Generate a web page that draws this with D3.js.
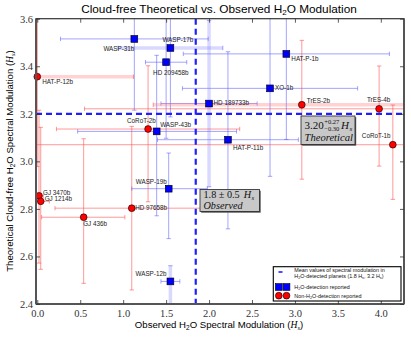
<!DOCTYPE html>
<html><head><meta charset="utf-8">
<script src="https://cdn.jsdelivr.net/npm/d3@7/dist/d3.min.js"></script>
<style>body{margin:0;background:#fff}svg{display:block}</style>
</head><body><svg id="c" width="411" height="337"></svg>
<script>
// ---- data ----
const planets   = ["WASP-31b","WASP-17b","HD 209458b","HAT-P-1b","XO-1b","HD 189733b","WASP-43b","HAT-P-11b","WASP-19b","WASP-12b",
                   "HAT-P-12b","TrES-2b","TrES-4b","CoRoT-2b","CoRoT-1b","GJ 3470b","GJ 1214b","HD 97658b","GJ 436b"];
const detected  = [1,1,1,1,1,1,1,1,1,1, 0,0,0,0,0,0,0,0,0];
const observed  = [1.13,1.55,1.50,2.90,2.71,2.00,1.39,2.22,1.53,1.55, 0.00,3.08,3.98,1.29,4.14,0.02,0.04,1.10,0.54];
const theoretical=[3.515,3.477,3.417,3.452,3.307,3.243,3.126,3.091,2.885,2.495, 3.356,3.238,3.221,3.136,3.070,2.855,2.832,2.803,2.765];
const obsErrLo  = [0.86,0.61,0.24,1.20,1.02,0.56,0.92,0.82,0.43,0.11, 1.12,1.73,3.43,1.067,4.2,0.05,0.10,0.894,0.49];
const obsErrHi  = [0.86,0.61,0.24,1.20,1.02,0.56,0.93,0.82,0.45,0.11, 1.12,1.73,3.43,1.067,4.2,0.05,0.10,0.894,0.48];
const theoErrLo = [0.30,0.29,0.32,0.36,0.37,0.35,0.355,0.375,0.21,0.095, 0.378,0.313,0.241,0.306,0.23,0.283,0.286,0.344,0.278];
const theoErrHi = [0.30,0.29,0.32,0.36,0.37,0.35,0.32,0.37,0.15,0.066, 0.378,0.271,0.18,0.266,0.167,0.36,0.311,0.344,0.33];
const obsErrWide  = [0,1,0,0,0,0,0,0,0,0, 1,1,0,0,0,0,0,0,0];
const theoErrWide = [0,0,0,0,0,1,0,0,0,1, 0,0,0,0,0,0,0,0,0];
const meanObserved = 1.845, meanTheoretical = 3.2;
const xTicks = [0.0,0.5,1.0,1.5,2.0,2.5,3.0,3.5,4.0];
const yTicks = [2.4,2.6,2.8,3.0,3.2,3.4,3.6];

// ---- layout ----
const svg = d3.select("#c");
const x = d3.scaleLinear().domain([-0.015, 4.27]).range([36, 404]);
const y = d3.scaleLinear().domain([2.4, 3.6]).range([304, 18.7]);
const X0 = x.range()[0], X1 = x.range()[1], Y0 = y.range()[1], Y1 = y.range()[0];
const serif = "'Liberation Serif','DejaVu Serif',serif";
const sans = "'Liberation Sans',Arial,sans-serif";

const rows = planets.map((n,i)=>({n,det:detected[i],x:observed[i],y:theoretical[i],xl:obsErrLo[i],xh:obsErrHi[i],yl:theoErrLo[i],yh:theoErrHi[i],xw:obsErrWide[i],yw:theoErrWide[i]}));

svg.append("defs").append("clipPath").attr("id","pc").append("rect")
  .attr("x",X0).attr("y",Y0).attr("width",X1-X0).attr("height",Y1-Y0);

// error bars
const eb = svg.append("g").attr("clip-path","url(#pc)");
const cap = 2.2;
rows.forEach(d=>{
  const thin = d.det ? "rgba(90,90,255,0.55)" : "rgba(255,70,70,0.55)";
  const wide = d.det ? "rgba(120,120,255,0.28)" : "rgba(255,110,110,0.3)";
  const cx = x(d.x), cy = y(d.y);
  const xa = x(d.x-d.xl), xb = x(d.x+d.xh), ya = y(d.y-d.yl), yb = y(d.y+d.yh);
  eb.append("line").attr("x1",xa).attr("x2",xb).attr("y1",cy).attr("y2",cy)
    .attr("stroke", d.xw?wide:thin).attr("stroke-width", d.xw?3.5:1);
  [xa,xb].forEach(v=>eb.append("line").attr("x1",v).attr("x2",v).attr("y1",cy-cap).attr("y2",cy+cap).attr("stroke",thin).attr("stroke-width",1));
  eb.append("line").attr("x1",cx).attr("x2",cx).attr("y1",ya).attr("y2",yb)
    .attr("stroke", d.yw?wide:thin).attr("stroke-width", d.yw?3.5:1);
  [ya,yb].forEach(v=>eb.append("line").attr("x1",cx-cap).attr("x2",cx+cap).attr("y1",v).attr("y2",v).attr("stroke",thin).attr("stroke-width",1));
});

// mean dashed lines
const ml = svg.append("g").attr("clip-path","url(#pc)");
ml.append("line").attr("x1",x(meanObserved)).attr("x2",x(meanObserved)).attr("y1",Y0).attr("y2",Y1)
  .attr("stroke","#1f1fff").attr("stroke-width",2.2).attr("stroke-dasharray","6,4");
ml.append("line").attr("x1",X0).attr("x2",X1).attr("y1",y(meanTheoretical)).attr("y2",y(meanTheoretical))
  .attr("stroke","#1f1fff").attr("stroke-width",2.2).attr("stroke-dasharray","6,4");

// markers
const mk = svg.append("g");
rows.forEach(d=>{
  if(d.det){
    mk.append("rect").attr("x",x(d.x)-3.4).attr("y",y(d.y)-3.4).attr("width",6.8).attr("height",6.8)
      .attr("fill","#0000ff").attr("stroke","#000").attr("stroke-width",0.6);
  } else {
    mk.append("circle").attr("cx",x(d.x)).attr("cy",y(d.y)).attr("r",3.4)
      .attr("fill","#ff0000").attr("stroke","#000").attr("stroke-width",0.6);
  }
});

// point labels (offsets in px)
const labelPos = {
 "WASP-31b":[0,10,"end"], "WASP-17b":[-8,-8,"start"], "HD 209458b":[-13,10.5,"start"], "HAT-P-1b":[5,5,"start"],
 "XO-1b":[5,-0.5,"start"], "HD 189733b":[4.5,-0.7,"start"], "WASP-43b":[3.5,-7,"start"], "HAT-P-11b":[5,8,"start"],
 "WASP-19b":[-2,-7,"end"], "WASP-12b":[-4,-7.3,"end"], "HAT-P-12b":[5,5.3,"start"], "TrES-2b":[5,-3.7,"start"],
 "TrES-4b":[-0.5,-8.7,"middle"], "CoRoT-2b":[-21,-8.3,"start"], "CoRoT-1b":[-31,-8.7,"start"], "GJ 3470b":[4,-2.7,"start"],
 "GJ 1214b":[4,-2.3,"start"], "HD 97658b":[3.5,-0.3,"start"], "GJ 436b":[-0.5,6.7,"start"]
};
const lb = svg.append("g").attr("font-family",sans).attr("font-size",6.3).attr("fill","#222");
rows.forEach(d=>{
  const p = labelPos[d.n];
  lb.append("text").attr("x",x(d.x)+p[0]).attr("y",y(d.y)+p[1]).attr("dy","0.35em").attr("text-anchor",p[2]).text(d.n);
});

// frame
const fr = svg.append("g");
fr.append("rect").attr("x",X0).attr("y",Y0).attr("width",X1-X0).attr("height",Y1-Y0).attr("fill","none").attr("stroke","#333").attr("stroke-width",1.2);
fr.append("line").attr("x1",X0).attr("x2",X0).attr("y1",Y0).attr("y2",Y1).attr("stroke","#555").attr("stroke-width",2);
fr.append("line").attr("x1",X0).attr("x2",X1).attr("y1",Y1).attr("y2",Y1).attr("stroke","#555").attr("stroke-width",2);
fr.append("line").attr("x1",X1).attr("x2",X1).attr("y1",Y0).attr("y2",Y1).attr("stroke","#555").attr("stroke-width",2);

// axes
const fmt = d3.format(".1f");
const xa = svg.append("g").attr("transform",`translate(0,${Y1})`).call(d3.axisBottom(x).tickValues(xTicks).tickFormat(fmt).tickSize(-4).tickPadding(6));
const xt = svg.append("g").attr("transform",`translate(0,${Y0})`).call(d3.axisTop(x).tickValues(xTicks).tickFormat("").tickSize(-4));
const ya2 = svg.append("g").attr("transform",`translate(${X0},0)`).call(d3.axisLeft(y).tickValues(yTicks).tickFormat(fmt).tickSize(-4).tickPadding(3));
const yr = svg.append("g").attr("transform",`translate(${X1},0)`).call(d3.axisRight(y).tickValues(yTicks).tickFormat("").tickSize(-4));
[xa,xt,ya2,yr].forEach(g=>{
  g.select(".domain").remove();
  g.selectAll(".tick line").attr("stroke","#333").attr("stroke-width",0.8);
  g.selectAll("text").attr("font-family",serif).attr("font-size",10.5).attr("fill","#333");
});

// annotation boxes
function box(x0,y0,w,h){
  svg.append("rect").attr("x",x0+1.2).attr("y",y0+1.2).attr("width",w).attr("height",h).attr("fill","#555");
  svg.append("rect").attr("x",x0).attr("y",y0).attr("width",w).attr("height",h).attr("fill","#c8c8c8").attr("stroke","#222").attr("stroke-width",0.8);
}
function txt(xp,yp,s,size,italic){
  return svg.append("text").attr("x",xp).attr("y",yp).attr("font-family",serif).attr("font-size",size)
    .attr("font-style",italic?"italic":"normal").attr("fill","#111").text(s);
}
box(301,116,54,28.5);
let a = txt(304.5,128.5,"3.20",11,false);
let ax = 304.5 + a.node().getComputedTextLength() + 0.5;
let sp = txt(ax,123.5,"+0.27",6.5,false);
let sb = txt(ax,131,"\u22120.30",6.5,false);
let hx = ax + Math.max(sp.node().getComputedTextLength(), sb.node().getComputedTextLength()) + 1.8;
let h1 = txt(hx,128.5,"H",11,true);
txt(hx + h1.node().getComputedTextLength() + 0.4,130.5,"s",7,true);
txt(304.5,141,"Theoretical",10.6,true);

box(200,189.5,59.5,22);
let b = txt(203.5,197.8,"1.8 \u00b1 0.5",10.2,false);
let bx = 203.5 + b.node().getComputedTextLength() + 4;
let h2 = txt(bx,197.8,"H",10.2,true);
txt(bx + h2.node().getComputedTextLength() + 0.4,199.6,"s",6.8,true);
txt(203.5,209,"Observed",10.2,true);

// legend
const lg = svg.append("g");
lg.append("rect").attr("x",273.3).attr("y",266.7).attr("width",127.7).attr("height",34.3).attr("fill","#fff").attr("stroke","#000").attr("stroke-width",1.1);
lg.append("line").attr("x1",278.5).attr("x2",282.5).attr("y1",272).attr("y2",272).attr("stroke","#1f1fff").attr("stroke-width",1.6);
const lt = lg.append("g").attr("font-family",sans).attr("font-size",5.4).attr("fill","#111");
lt.append("text").attr("x",294.3).attr("y",271.8).text("Mean values of spectral modulation in");
const l2 = lt.append("text").attr("x",294.3).attr("y",278.3);
l2.append("tspan").text("H");
l2.append("tspan").attr("font-size",3.8).attr("dy",1).text("2");
l2.append("tspan").attr("dy",-1).text("O-detected planets (1.8 H");
l2.append("tspan").attr("font-size",3.8).attr("dy",1).text("s");
l2.append("tspan").attr("dy",-1).text(", 3.2 H");
l2.append("tspan").attr("font-size",3.8).attr("dy",1).text("s");
l2.append("tspan").attr("dy",-1).text(")");
[278.8,286.5].forEach(cx=>{
  lg.append("rect").attr("x",cx-3.4).attr("y",287-3.4).attr("width",6.8).attr("height",6.8).attr("fill","#0000ff").attr("stroke","#000").attr("stroke-width",0.6);
  lg.append("circle").attr("cx",cx).attr("cy",295.7).attr("r",3.4).attr("fill","#ff0000").attr("stroke","#000").attr("stroke-width",0.6);
});
const l3 = lt.append("text").attr("x",294.3).attr("y",289);
l3.append("tspan").text("H");
l3.append("tspan").attr("font-size",3.8).attr("dy",1).text("2");
l3.append("tspan").attr("dy",-1).text("O-detection reported");
const l4 = lt.append("text").attr("x",294.3).attr("y",297.7);
l4.append("tspan").text("Non-H");
l4.append("tspan").attr("font-size",3.8).attr("dy",1).text("2");
l4.append("tspan").attr("dy",-1).text("O-detection reported");

// title
const tt = svg.append("text").attr("x",219).attr("y",12.5).attr("text-anchor","middle").attr("font-family",sans).attr("font-size",11.8).attr("fill","#000");
tt.append("tspan").text("Cloud-free Theoretical vs. Observed H");
tt.append("tspan").attr("font-size",8).attr("dy",2.5).text("2");
tt.append("tspan").attr("dy",-2.5).text("O Modulation");

// x label
const xl = svg.append("text").attr("x",219).attr("y",327.5).attr("text-anchor","middle").attr("font-family",sans).attr("font-size",9.6).attr("fill","#000");
xl.append("tspan").text("Observed H");
xl.append("tspan").attr("font-size",6.5).attr("dy",2).text("2");
xl.append("tspan").attr("dy",-2).text("O Spectral Modulation (");
xl.append("tspan").attr("font-family",serif).attr("font-style","italic").text("H");
xl.append("tspan").attr("font-family",serif).attr("font-style","italic").attr("font-size",6.5).attr("dy",2).text("s");
xl.append("tspan").attr("dy",-2).text(")");

// y label
const yl = svg.append("text").attr("transform","translate(12.5,161) rotate(-90)").attr("text-anchor","middle").attr("font-family",sans).attr("font-size",9.6).attr("fill","#000");
yl.append("tspan").text("Theoretical Cloud-free H");
yl.append("tspan").attr("font-size",6.5).attr("dy",2).text("2");
yl.append("tspan").attr("dy",-2).text("O Spectral Modulation (");
yl.append("tspan").attr("font-family",serif).attr("font-style","italic").text("H");
yl.append("tspan").attr("font-family",serif).attr("font-style","italic").attr("font-size",6.5).attr("dy",2).text("s");
yl.append("tspan").attr("dy",-2).text(")");
</script></body></html>
